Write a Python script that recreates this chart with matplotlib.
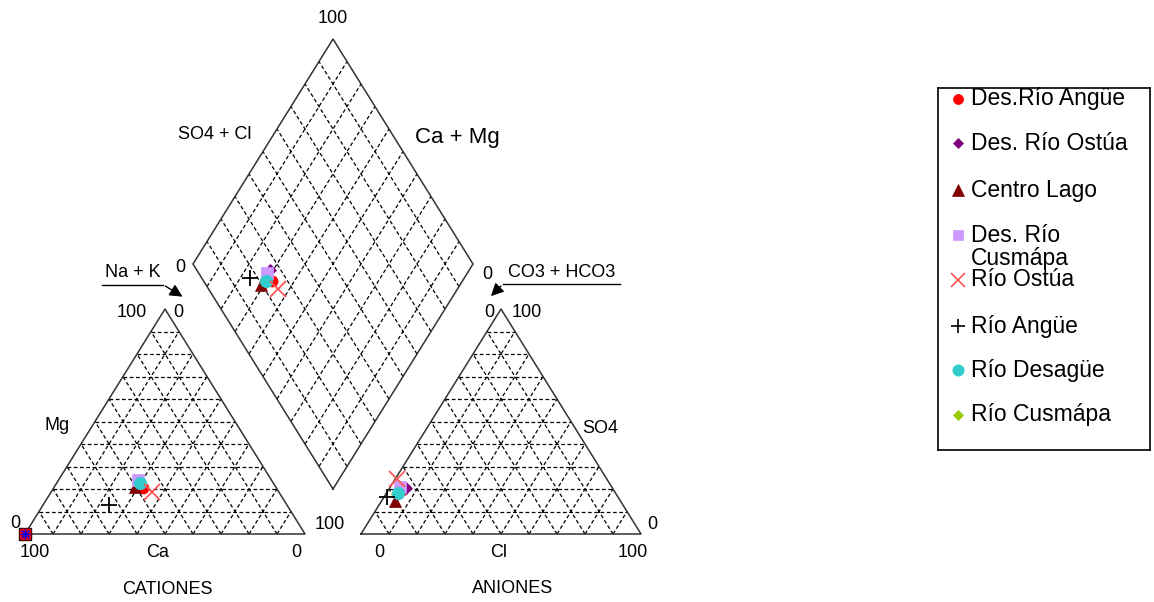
import matplotlib
matplotlib.use('Agg')
import matplotlib.pyplot as plt
import numpy as np

plt.rcParams['font.family'] = ['Liberation Sans', 'DejaVu Sans']

# muestras (porcentajes en meq/L)
names = ['Des.Río Angüe', 'Des. Río Ostúa', 'Centro Lago', 'Des. Río\nCusmápa',
         'Río Ostúa', 'Río Angüe', 'Río Desagüe', 'Río Cusmápa']
mg = [20.4, 23.0, 20.9, 24.0, 18.7, 12.9, 22.5, 22.0]
nak = [32.0, 28.8, 29.0, 28.4, 36.0, 23.5, 30.0, 29.8]
so4 = [19.5, 20.4, 14.5, 20.9, 24.5, 16.5, 18.2, 18.0]
cl = [5.0, 5.9, 5.0, 3.3, 0.5, 1.0, 4.2, 4.0]

markers = ['o', 'D', '^', 's', 'x', '+', 'o', 'D']
colors = ['#ff0000', '#800080', '#800000', '#cc99ff', '#ff5555', '#000000', '#33cccc', '#99cc00']
sizes = [8, 6, 9, 8, 11, 11, 9, 6]
draw_order = [7, 0, 1, 2, 3, 6, 4, 5]

# puntos sin datos que caen en el vertice Ca = 100
zero_mg = [0, 0, 0, 0]
zero_nak = [0, 0, 0, 0]
zero_style = [('s', '#200000', 8), ('s', '#ee0000', 6.5), ('+', '#0000ff', 7), ('x', '#0000ff', 5.5)]

SQ3 = np.sqrt(3)
H = 50 * SQ3


def cation_xy(m, n):
    m = np.asarray(m, float)
    n = np.asarray(n, float)
    return n + m / 2, m * SQ3 / 2


def anion_xy(s, c):
    s = np.asarray(s, float)
    c = np.asarray(c, float)
    return 120 + c + s / 2, s * SQ3 / 2


def diamond_xy(n, s, c):
    n = np.asarray(n, float)
    t = 120 + np.asarray(c, float) + np.asarray(s, float)
    return (n + t) / 2, (t - n) * SQ3 / 2


grid_kw = dict(color='black', lw=0.9, ls=(0, (3, 2)), zorder=1)
edge_kw = dict(color='#333333', lw=1.1, zorder=2)


def draw_triangle(ax, x0):
    for i in range(1, 10):
        f = i * 10
        y = f * SQ3 / 2
        ax.plot([x0 + f / 2, x0 + 100 - f / 2], [y, y], **grid_kw)
        ax.plot([x0 + f, x0 + 50 + f / 2], [0, (100 - f) * SQ3 / 2], **grid_kw)
        ax.plot([x0 + f, x0 + f / 2], [0, y], **grid_kw)
    ax.plot([x0, x0 + 100, x0 + 50, x0], [0, 0, H, 0], **edge_kw)


def draw_diamond(ax):
    b = np.array([110, 20 * SQ3 / 2])
    u = np.array([0.5, SQ3 / 2])
    v = np.array([-0.5, SQ3 / 2])
    for i in range(1, 10):
        p = b + i * 10 * u
        q = p + 100 * v
        ax.plot([p[0], q[0]], [p[1], q[1]], **grid_kw)
        p = b + i * 10 * v
        q = p + 100 * u
        ax.plot([p[0], q[0]], [p[1], q[1]], **grid_kw)
    pts = np.array([b, b + 100 * u, b + 100 * u + 100 * v, b + 100 * v, b])
    ax.plot(pts[:, 0], pts[:, 1], **edge_kw)


fig = plt.figure(figsize=(11.54, 6.02), dpi=100)
ax = fig.add_axes([0, 0, 1, 1])
ax.set_xlim(-25 / 2.8, (1154 - 25) / 2.8)
ax.set_ylim((534 - 602) / 2.598, 534 / 2.598)
ax.axis('off')

draw_triangle(ax, 0)
draw_triangle(ax, 120)
draw_diamond(ax)

for i in draw_order:
    kw = dict(marker=markers[i], color=colors[i], ms=sizes[i], ls='none', zorder=5,
              mew=1.3 if markers[i] in ('x', '+') else 0.5)
    ax.plot(*cation_xy([mg[i]], [nak[i]]), **kw)
    ax.plot(*anion_xy([so4[i]], [cl[i]]), **kw)
    ax.plot(*diamond_xy([nak[i]], [so4[i]], [cl[i]]), **kw)

for k, (m, c, s) in enumerate(zero_style):
    ax.plot(*cation_xy([zero_mg[k]], [zero_nak[k]]), marker=m, color=c, ms=s,
            ls='none', mew=1.0, zorder=6)

fs = 13
# etiquetas triangulo de cationes
ax.text(38.2, 85.1, '100', fontsize=fs, ha='center', va='center')
ax.text(54.6, 85.1, '0', fontsize=fs, ha='center', va='center')
ax.text(-3.6, 3.9, '0', fontsize=fs, ha='center', va='center')
ax.text(3.6, -7.3, '100', fontsize=fs, ha='center', va='center')
ax.text(47.5, -7.3, 'Ca', fontsize=fs, ha='center', va='center')
ax.text(96.8, -7.3, '0', fontsize=fs, ha='center', va='center')
ax.text(11.4, 41.6, 'Mg', fontsize=fs, ha='center', va='center')
ax.text(108.9, 3.5, '100', fontsize=fs, ha='center', va='center')
ax.text(50.7, -21.2, 'CATIONES', fontsize=fs, ha='center', va='center')

# etiquetas triangulo de aniones
ax.text(165.7, 85.1, '0', fontsize=fs, ha='center', va='center')
ax.text(179.3, 85.1, '100', fontsize=fs, ha='center', va='center')
ax.text(205.4, 40.8, 'SO4', fontsize=fs, ha='center', va='center')
ax.text(223.9, 3.5, '0', fontsize=fs, ha='center', va='center')
ax.text(126.4, -7.3, '0', fontsize=fs, ha='center', va='center')
ax.text(169.3, -7.3, 'Cl', fontsize=fs, ha='center', va='center')
ax.text(217.1, -7.3, '100', fontsize=fs, ha='center', va='center')
ax.text(174.3, -20.8, 'ANIONES', fontsize=fs, ha='center', va='center')

# etiquetas del rombo
ax.text(110, 198.5, '100', fontsize=fs, ha='center', va='center')
ax.text(67.9, 153.6, 'SO4 + Cl', fontsize=fs, ha='center', va='center')
ax.text(154.3, 152.8, 'Ca + Mg', fontsize=16, ha='center', va='center')
ax.text(55.4, 102.4, '0', fontsize=fs, ha='center', va='center')
ax.text(165.0, 99.7, '0', fontsize=fs, ha='center', va='center')

ax.text(38.6, 100.8, 'Na + K', fontsize=fs, ha='center', va='center')
ax.plot([27.5, 49.3], [95.8, 95.8], color='black', lw=1)
ax.annotate('', xy=(57.1, 90.8), xytext=(49.3, 96.0),
            arrowprops=dict(arrowstyle='-|>', color='black', lw=1, mutation_scale=19))
ax.text(191.8, 100.8, 'CO3 + HCO3', fontsize=fs, ha='center', va='center')
ax.plot([170.7, 212.5], [96.2, 96.2], color='black', lw=1)
ax.annotate('', xy=(165.7, 90.8), xytext=(170.7, 96.2),
            arrowprops=dict(arrowstyle='-|>', color='black', lw=1, mutation_scale=19))

# leyenda
lax = fig.add_axes([938 / 1154, 1 - 450 / 602, 212 / 1154, 362 / 602])
lax.set_xlim(0, 212)
lax.set_ylim(362, 0)
lax.set_xticks([])
lax.set_yticks([])
for sp in lax.spines.values():
    sp.set_color('black')
    sp.set_linewidth(1.2)
row_y = [11, 55, 102, 147, 192, 238, 282, 327]
for i, name in enumerate(names):
    lax.plot([20], [row_y[i]], marker=markers[i], color=colors[i], ms=sizes[i] * 0.9,
             ls='none', mew=1.2 if markers[i] in ('x', '+') else 0.5)
    for k, line in enumerate(name.split('\n')):
        lax.text(33, row_y[i] + k * 23, line, fontsize=16.5, ha='left', va='center')

fig.savefig('out.png', dpi=100)
